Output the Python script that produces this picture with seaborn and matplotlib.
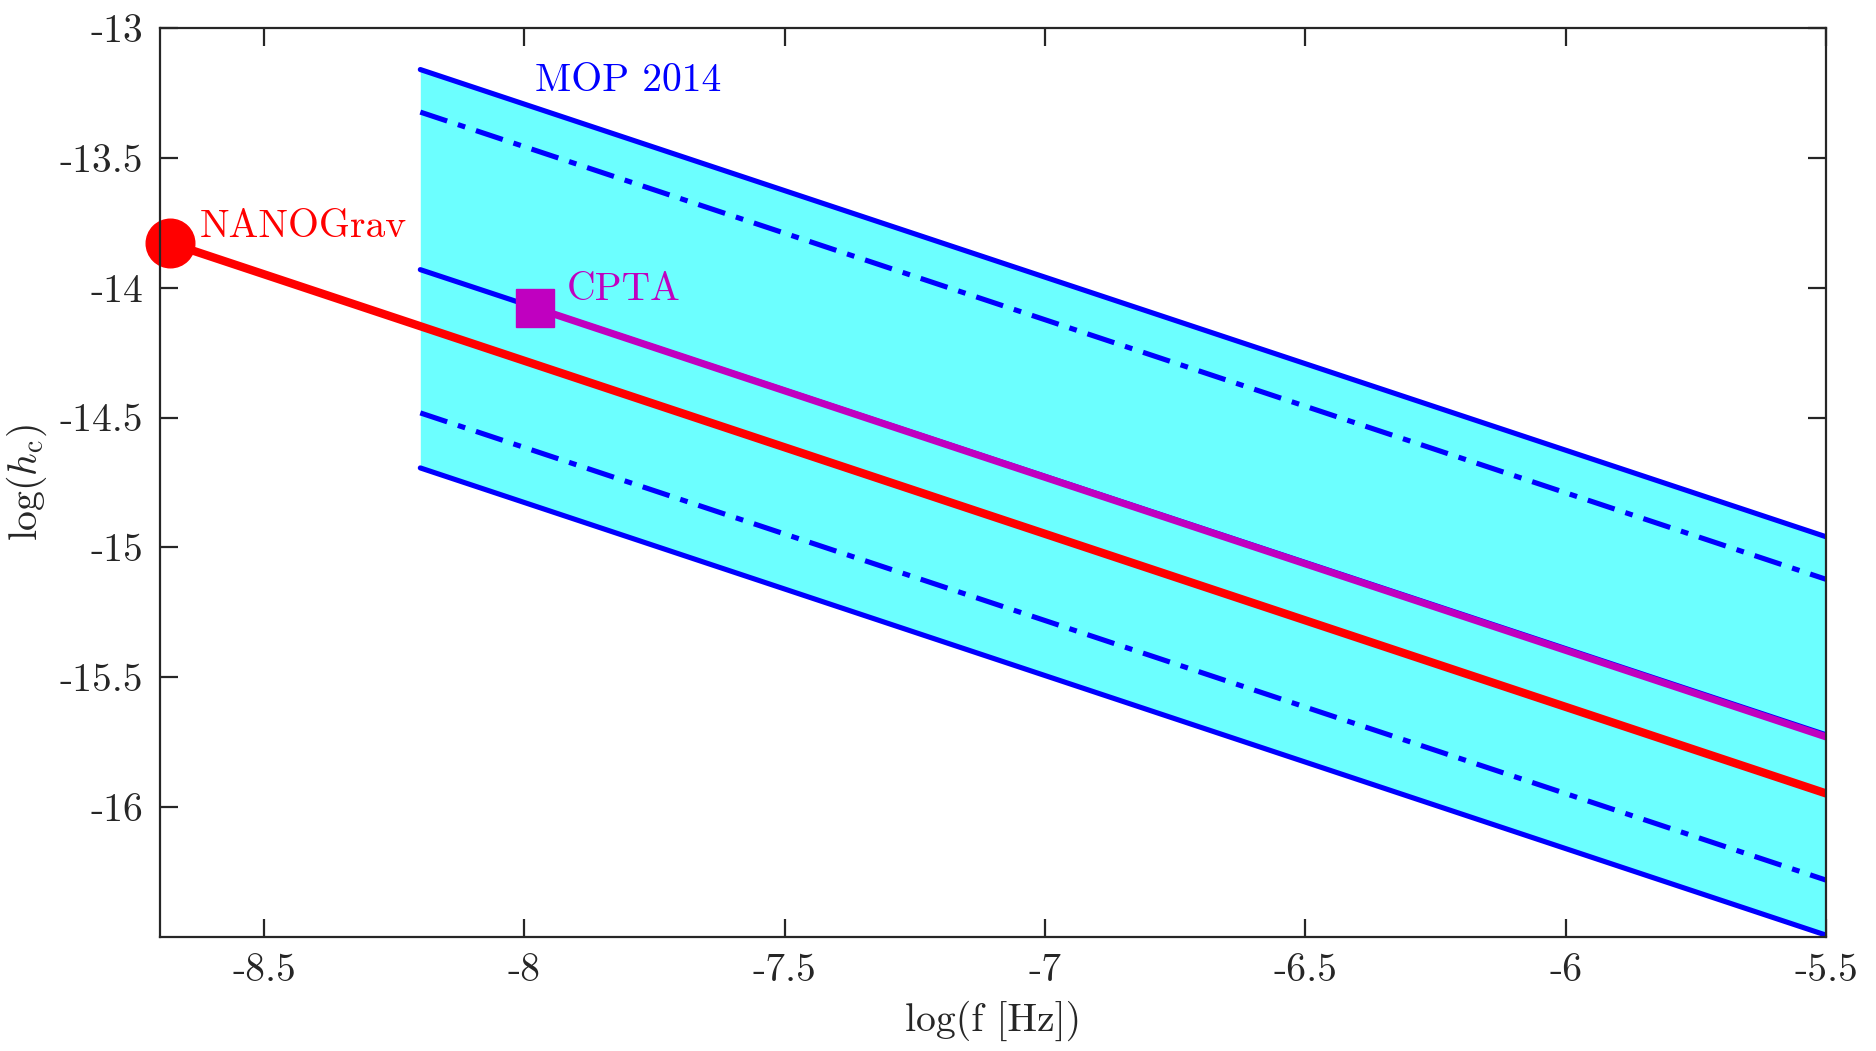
import matplotlib
matplotlib.use("Agg")
import matplotlib.pyplot as plt
import seaborn as sns
import numpy as np

# --- data (log10 of frequency in Hz, log10 of characteristic strain) ---
band_x = [-8.2, -5.5]
mop_upper = [-13.159, -14.959]
mop_upper_mid = [-13.323, -15.123]
mop_center = [-13.93, -15.722]
mop_lower_mid = [-14.482, -16.282]
mop_lower = [-14.694, -16.494]

nanograv_x = [-8.68, -5.5]
nanograv_y = [-13.828, -15.948]

cpta_x = [-7.98, -5.5]
cpta_y = [-14.077, -15.73]

xticks = [-8.5, -8, -7.5, -7, -6.5, -6, -5.5]
xtick_labels = ["-8.5", "-8", "-7.5", "-7", "-6.5", "-6", "-5.5"]
yticks = [-16, -15.5, -15, -14.5, -14, -13.5, -13]
ytick_labels = ["-16", "-15.5", "-15", "-14.5", "-14", "-13.5", "-13"]

sns.set_theme(style="ticks")
plt.rcParams["font.family"] = ["cmr10", "DejaVu Serif"]
plt.rcParams["mathtext.fontset"] = "cm"
plt.rcParams["axes.unicode_minus"] = False
plt.rcParams["axes.formatter.use_mathtext"] = True

fig = plt.figure(figsize=(18.76, 10.51), dpi=100)
ax = fig.add_axes([0.0853, 0.1088, 0.8880, 0.8643])

blue = "#0000ff"
red = "#ff0000"
magenta = "#c000c0"
dashdot = (0, (5.5, 2.2, 1.5, 2.2))
fs = 28.5

# MOP 2014 band
ax.fill_between(band_x, mop_lower, mop_upper, color="#6cffff", lw=0, zorder=1)
sns.lineplot(x=band_x, y=mop_upper, ax=ax, color=blue, lw=3.7, zorder=2)
sns.lineplot(x=band_x, y=mop_lower, ax=ax, color=blue, lw=3.7, zorder=2)
sns.lineplot(x=band_x, y=mop_center, ax=ax, color=blue, lw=3.7, zorder=2)
sns.lineplot(x=band_x, y=mop_upper_mid, ax=ax, color=blue, lw=3.7,
             linestyle=dashdot, zorder=2)
sns.lineplot(x=band_x, y=mop_lower_mid, ax=ax, color=blue, lw=3.7,
             linestyle=dashdot, zorder=2)

# NANOGrav
sns.lineplot(x=nanograv_x, y=nanograv_y, ax=ax, color=red, lw=6.0, zorder=3)
ax.plot(nanograv_x[0], nanograv_y[0], marker="o", ms=35, color=red,
        mec=red, zorder=4, clip_on=False)

# CPTA
sns.lineplot(x=cpta_x, y=cpta_y, ax=ax, color=magenta, lw=5.2, zorder=3)
ax.plot(cpta_x[0], cpta_y[0], marker="s", ms=28, color=magenta,
        mec=magenta, zorder=4)

# labels
ax.text(-7.98, -13.24, "MOP 2014", color=blue, fontsize=fs, va="baseline")
ax.text(-8.623, -13.804, "NANOGrav", color=red, fontsize=fs, va="baseline")
ax.text(-7.919, -14.047, "CPTA", color=magenta, fontsize=fs, va="baseline")

ax.set_xlim(-8.7, -5.5)
ax.set_ylim(-16.5, -13)
ax.set_xticks(xticks)
ax.set_xticklabels(xtick_labels)
ax.set_yticks(yticks)
ax.set_yticklabels(ytick_labels)
ax.tick_params(direction="in", length=13, width=1.6, colors="#262626",
               labelsize=fs, top=True, right=True, pad=12)
for s in ax.spines.values():
    s.set_visible(True)
    s.set_linewidth(1.6)
    s.set_color("#262626")
    s.set_zorder(5)

ax.set_xlabel("log(f [Hz])", fontsize=fs, color="#262626", labelpad=8)
ax.set_ylabel(r"log($h_\mathrm{c}$)", fontsize=fs, color="#262626", labelpad=8)

fig.savefig("out.png", dpi=100, facecolor="white")
